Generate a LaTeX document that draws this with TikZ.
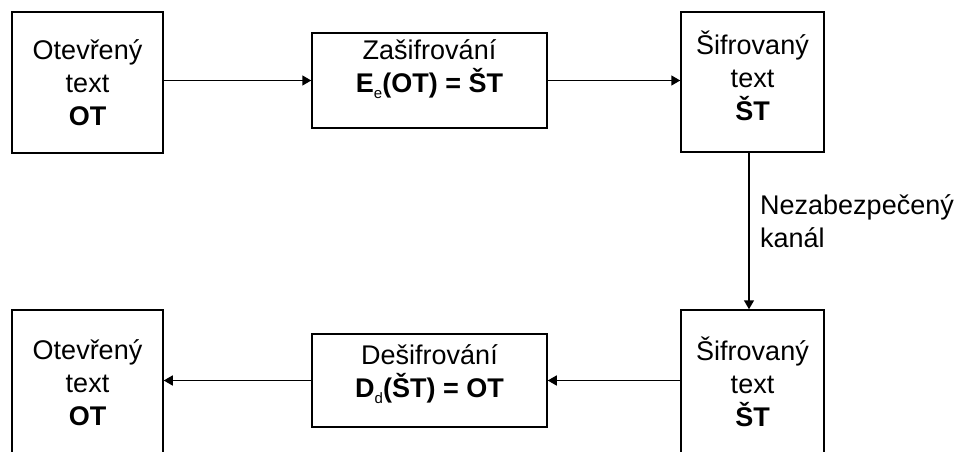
\documentclass[tikz,border=0pt]{standalone}
\usepackage{fontspec}
\setmainfont{Liberation Sans}
\usetikzlibrary{arrows.meta}
% small lowered index after a bold letter (E_e, D_d)
\newcommand\lowidx[1]{\raisebox{-6pt}{\fontsize{15}{15}\selectfont\mdseries #1}}
\begin{document}
\begin{tikzpicture}[x=1pt,y=-1pt,
  box/.style={draw, line width=1.5pt, inner sep=0pt},
  txt/.style={align=center, font=\fontsize{27}{33}\selectfont, inner sep=0pt},
  lbl/.style={align=left, font=\fontsize{27}{33}\selectfont, inner sep=0pt, anchor=west},
  arr/.style={line width=1.5pt, -{Triangle[length=9pt,width=10pt]}}]
\useasboundingbox (0,0) rectangle (962,452);
\clip (0,0) rectangle (962,452);

% boxes
\node[box, minimum width=151, minimum height=141] (ot1) at (87.5,82.5) {};
\node[box, minimum width=235, minimum height=95] (enc) at (429.5,80.5) {};
\node[box, minimum width=143, minimum height=140] (st1) at (752.5,82) {};
\node[box, minimum width=143, minimum height=160] (st2) at (752.5,390) {};
\node[box, minimum width=235, minimum height=93] (dec) at (429.5,380.5) {};
\node[box, minimum width=151, minimum height=160] (ot2) at (87.5,390) {};

% box texts
\node[txt] (ot1t) at (87.5,83) {Otevřený\\text\\\textbf{OT}};
\node[txt] (enct) at (429.5,69) {Zašifrování\\\textbf{E\lowidx{e}(OT) = ŠT}};
\node[txt] (st1t) at (752.5,76) {Šifrovaný\\text\\\textbf{ŠT}};
\node[txt] (st2t) at (752.5,382) {Šifrovaný\\text\\\textbf{ŠT}};
\node[txt] (dect) at (429.5,374) {Dešifrování\\\textbf{D\lowidx{d}(ŠT) = OT}};
\node[txt] (ot2t) at (87.5,383) {Otevřený\\text\\\textbf{OT}};

% connectors
\draw[arr] (ot1.east |- enc.west) -- (enc.west);
\draw[arr] (enc.east) -- (enc.east -| st1.west);
\draw[arr] ([xshift=-3.5pt]st1.south) -- ([xshift=-3.5pt]st2.north);
\node[lbl] (kanal) at (760,221) {Nezabezpečený\\kanál};
\draw[arr] (st2.west |- dec.east) -- (dec.east);
\draw[arr] (dec.west) -- (dec.west -| ot2.east);
\end{tikzpicture}
\end{document}
